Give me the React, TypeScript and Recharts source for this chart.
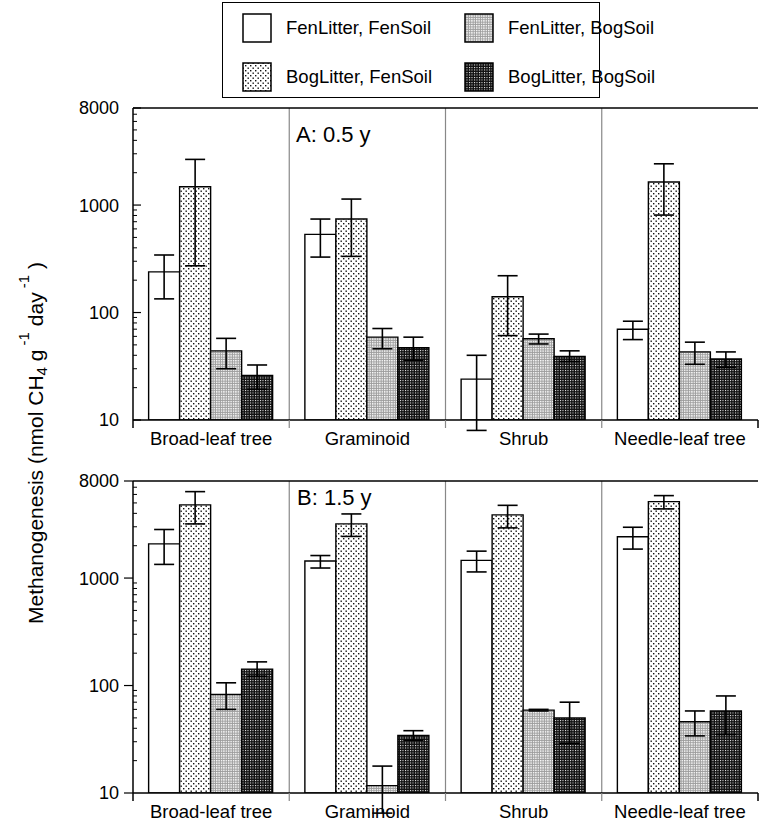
import React from "react";
import { BarChart, Bar, XAxis, YAxis, ErrorBar, ReferenceLine, CartesianGrid } from "recharts";

const CATEGORIES = ["Broad-leaf tree", "Graminoid", "Shrub", "Needle-leaf tree"];
const SERIES_KEYS = ["fenFen", "bogFen", "fenBog", "bogBog"];
const SERIES_NAMES = ["FenLitter, FenSoil", "BogLitter, FenSoil", "FenLitter, BogSoil", "BogLitter, BogSoil"];
const SERIES_FILLS = ["#ffffff", "url(#patDots)", "url(#patLight)", "url(#patDark)"];

const Y_MAJOR = [10, 100, 1000, 8000];
const Y_MINOR = [20, 30, 40, 50, 60, 70, 80, 90, 200, 300, 400, 500, 600, 700, 800, 900, 2000, 3000, 4000, 5000, 6000, 7000];

// A: 0.5 y  (mean, lower and upper end of error bar)
const A_FEN_FEN = [239, 534, 24, 70];
const A_FEN_FEN_LO = [134, 328, 8, 56];
const A_FEN_FEN_HI = [343, 741, 40, 83];
const A_BOG_FEN = [1480, 741, 140, 1640];
const A_BOG_FEN_LO = [272, 333, 61, 807];
const A_BOG_FEN_HI = [2660, 1137, 220, 2420];
const A_FEN_BOG = [44, 59, 57, 43];
const A_FEN_BOG_LO = [30, 46, 51, 33];
const A_FEN_BOG_HI = [57.5, 71, 63, 53];
const A_BOG_BOG = [26, 47, 39, 37];
const A_BOG_BOG_LO = [19.3, 36, 35, 31];
const A_BOG_BOG_HI = [32.5, 59, 44, 43];

// B: 1.5 y
const B_FEN_FEN = [2080, 1440, 1460, 2420];
const B_FEN_FEN_LO = [1340, 1240, 1140, 1860];
const B_FEN_FEN_HI = [2830, 1620, 1780, 2970];
const B_BOG_FEN = [4800, 3190, 3870, 5140];
const B_BOG_FEN_LO = [3190, 2440, 2930, 4400];
const B_BOG_FEN_HI = [6370, 3950, 4750, 5850];
const B_FEN_BOG = [82.5, 11.7, 59, 46];
const B_FEN_BOG_LO = [60, 6.5, 58, 34];
const B_FEN_BOG_HI = [106, 17.8, 60, 58];
const B_BOG_BOG = [142, 34.4, 50, 58];
const B_BOG_BOG_LO = [122, 31, 29, 35];
const B_BOG_BOG_HI = [166, 38, 70, 80];

const FONT = '"Liberation Sans", Arial, Helvetica, sans-serif';

const CHART_W = 765;
const MARGIN_LEFT = 73;
const MARGIN_RIGHT = 7;
const Y_AXIS_W = 60;
const CELL_W = (CHART_W - MARGIN_LEFT - MARGIN_RIGHT - Y_AXIS_W) / CATEGORIES.length;

function buildRows(means: number[][], lows: number[][], highs: number[][]) {
  return CATEGORIES.map((cat, i) => {
    const row: any = { cat };
    SERIES_KEYS.forEach((k, s) => {
      row[k] = means[s][i];
      row[k + "Err"] = [means[s][i] - lows[s][i], highs[s][i] - means[s][i]];
    });
    return row;
  });
}

const dataA = buildRows(
  [A_FEN_FEN, A_BOG_FEN, A_FEN_BOG, A_BOG_BOG],
  [A_FEN_FEN_LO, A_BOG_FEN_LO, A_FEN_BOG_LO, A_BOG_BOG_LO],
  [A_FEN_FEN_HI, A_BOG_FEN_HI, A_FEN_BOG_HI, A_BOG_BOG_HI]
);
const dataB = buildRows(
  [B_FEN_FEN, B_BOG_FEN, B_FEN_BOG, B_BOG_BOG],
  [B_FEN_FEN_LO, B_BOG_FEN_LO, B_FEN_BOG_LO, B_BOG_BOG_LO],
  [B_FEN_FEN_HI, B_BOG_FEN_HI, B_FEN_BOG_HI, B_BOG_BOG_HI]
);

const YTick = ({ x, y, payload, outward }: any) => {
  const v = payload.value;
  if (!Y_MAJOR.includes(v)) {
    return <line x1={x} x2={x + 4} y1={y} y2={y} stroke="#000" strokeWidth={1} />;
  }
  return (
    <g>
      <line x1={outward ? x - 9 : x} x2={outward ? x : x + 8} y1={y} y2={y} stroke="#000" strokeWidth={1.2} />
      <text x={x - 14} y={y} dy="0.36em" textAnchor="end" fontSize={18} fontFamily={FONT} fill="#000">
        {v}
      </text>
    </g>
  );
};

const XTick = ({ x, y, payload, index }: any) => {
  const ay = y - 8;
  const left = x - CELL_W / 2;
  const right = x + CELL_W / 2;
  const last = index === CATEGORIES.length - 1;
  return (
    <g>
      <line x1={left} x2={left} y1={ay} y2={ay + 8} stroke={index === 0 ? "#000" : "#888"} strokeWidth={index === 0 ? 1.5 : 1.2} />
      {last && <line x1={right} x2={right} y1={ay} y2={ay + 8} stroke="#000" strokeWidth={1.5} />}
      <text x={x} y={ay + 25} textAnchor="middle" fontSize={18.5} fontFamily={FONT} fill="#000">
        {payload.value}
      </text>
    </g>
  );
};

function Panel({ data, height, margin, outward }: any) {
  return (
    <BarChart width={CHART_W} height={height} data={data} margin={margin} barCategoryGap="10%" barGap={0}>
      <CartesianGrid
        horizontal={false}
        stroke="#888"
        strokeWidth={1.2}
        verticalCoordinatesGenerator={({ offset }: any) =>
          CATEGORIES.slice(1).map((_, i) => offset.left + ((i + 1) * offset.width) / CATEGORIES.length)
        }
      />
      <XAxis
        dataKey="cat"
        interval={0}
        tickSize={8}
        tickMargin={0}
        tickLine={false}
        tick={(p: any) => <XTick {...p} />}
        axisLine={{ stroke: "#000", strokeWidth: 1.5 }}
        height={30}
      />
      <YAxis
        scale="log"
        domain={[10, 8000]}
        allowDataOverflow
        ticks={[...Y_MAJOR, ...Y_MINOR].sort((a, b) => a - b)}
        interval={0}
        tickSize={0}
        tickMargin={0}
        tickLine={false}
        tick={(p: any) => <YTick {...p} outward={outward} />}
        axisLine={{ stroke: "#000", strokeWidth: 1.5 }}
        width={Y_AXIS_W}
      />
      <YAxis
        yAxisId="right"
        orientation="right"
        scale="log"
        domain={[10, 8000]}
        allowDataOverflow
        tick={false}
        tickLine={false}
        axisLine={{ stroke: "#000", strokeWidth: 1.5 }}
        width={0}
      />
      <ReferenceLine y={8000} stroke="#000" strokeWidth={1.5} />
      {SERIES_KEYS.map((k, s) => (
        <Bar key={k} dataKey={k} name={SERIES_NAMES[s]} fill={SERIES_FILLS[s]} stroke="#000" strokeWidth={1.4} isAnimationActive={false}>
          <ErrorBar dataKey={k + "Err"} width={10} stroke="#000" strokeWidth={1.6} />
        </Bar>
      ))}
    </BarChart>
  );
}

const LEGEND_ORDER = [0, 2, 1, 3];

export default function App() {
  return (
    <div style={{ position: "absolute", left: 0, top: 0, width: 765, height: 836, background: "#fff", fontFamily: FONT }}>
      <style>{`.recharts-errorBars, .recharts-errorBar { clip-path: none !important; }`}</style>
      <svg width={0} height={0} style={{ position: "absolute" }}>
        <defs>
          <pattern id="patDots" width={5} height={5} patternUnits="userSpaceOnUse">
            <rect width={5} height={5} fill="#fff" />
            <rect x={0.5} y={0.5} width={1.4} height={1.4} fill="#111" />
            <rect x={3} y={3} width={1.4} height={1.4} fill="#111" />
          </pattern>
          <pattern id="patLight" width={2.4} height={2.4} patternUnits="userSpaceOnUse">
            <rect width={2.4} height={2.4} fill="#9c9c9c" />
            <rect width={1.4} height={1.4} fill="#fff" />
          </pattern>
          <pattern id="patDark" width={2.5} height={2.5} patternUnits="userSpaceOnUse">
            <rect width={2.5} height={2.5} fill="#111" />
            <rect width={1} height={1} fill="#fff" />
          </pattern>
        </defs>
      </svg>

      <div style={{ position: "absolute", left: 222, top: 2, width: 376, height: 94, border: "1.5px solid #000" }}>
        {LEGEND_ORDER.map((s, i) => {
          const col = i % 2;
          const row = Math.floor(i / 2);
          return (
            <div
              key={s}
              style={{ position: "absolute", left: 19 + col * 222, top: 10 + row * 49, display: "flex", alignItems: "center", height: 30, whiteSpace: "nowrap" }}
            >
              <svg width={30} height={30}>
                <rect x={1} y={1} width={28} height={28} fill={SERIES_FILLS[s]} stroke="#000" strokeWidth={1.5} />
              </svg>
              <span style={{ marginLeft: 14, fontSize: 18.5 }}>{SERIES_NAMES[s]}</span>
            </div>
          );
        })}
      </div>

      <svg width={70} height={836} style={{ position: "absolute", left: 0, top: 0 }}>
        <text x={35} y={443} transform="rotate(-90 35 443)" textAnchor="middle" dominantBaseline="central" fontSize={21} fontFamily={FONT} fill="#000">
          Methanogenesis (nmol CH
          <tspan dy={6} fontSize={15}>4</tspan>
          <tspan dy={-6}> g</tspan>
          <tspan dy={-12} fontSize={15}> -1</tspan>
          <tspan dy={12}>  day</tspan>
          <tspan dy={-12} fontSize={15}> -1</tspan>
          <tspan dy={12}> )</tspan>
        </text>
      </svg>

      <div style={{ position: "absolute", left: 0, top: 0 }}>
        <Panel data={dataA} height={460} margin={{ top: 108, right: MARGIN_RIGHT, bottom: 10, left: MARGIN_LEFT }} outward={false} />
      </div>
      <div style={{ position: "absolute", left: 0, top: 460 }}>
        <Panel data={dataB} height={376} margin={{ top: 21, right: MARGIN_RIGHT, bottom: 13, left: MARGIN_LEFT }} outward={true} />
      </div>

      <div style={{ position: "absolute", left: 296, top: 122, fontSize: 22, lineHeight: "26px" }}>A: 0.5 y</div>
      <div style={{ position: "absolute", left: 297, top: 485, fontSize: 22, lineHeight: "26px" }}>B: 1.5 y</div>
    </div>
  );
}
